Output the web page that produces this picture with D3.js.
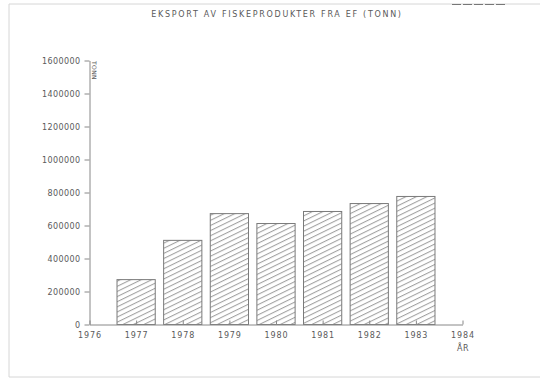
<!DOCTYPE html>
<html>
<head>
<meta charset="utf-8">
<script src="https://cdn.jsdelivr.net/npm/d3@7"></script>
<style>
  html, body { margin: 0; padding: 0; background: #fff; }
  svg { display: block; }
  text { font-family: "DejaVu Sans", sans-serif; fill: #5a5a5a; }
</style>
</head>
<body>
<script>
// Export of fish products from the EC, tonnes per year
const years = [1977, 1978, 1979, 1980, 1981, 1982, 1983];
const tonnes = [272000, 510000, 672000, 612000, 685000, 733000, 776000];
const yearTicks = [1976, 1977, 1978, 1979, 1980, 1981, 1982, 1983, 1984];
const tonneTicks = [0, 200000, 400000, 600000, 800000, 1000000, 1200000, 1400000, 1600000];

const W = 540, H = 381;
const svg = d3.select("body").append("svg").attr("width", W).attr("height", H);

// diagonal hatch used to fill the bars
const defs = svg.append("defs");
const pat = defs.append("pattern")
  .attr("id", "hatch")
  .attr("patternUnits", "userSpaceOnUse")
  .attr("width", 10).attr("height", 4.6)
  .attr("patternTransform", "rotate(-26)");
pat.append("line")
  .attr("x1", 0).attr("x2", 10).attr("y1", 0.6).attr("y2", 0.6)
  .attr("stroke", "#8a8a8a").attr("stroke-width", 0.9);

// faint sheet edge
svg.append("path")
  .attr("d", "M9,4 L540,4 M9,4 L9,377 M9,377 L540,377")
  .attr("fill", "none").attr("stroke", "#d6d6d6").attr("stroke-width", 1);
svg.append("line")
  .attr("x1", 452).attr("x2", 506).attr("y1", 4.5).attr("y2", 4.5)
  .attr("stroke", "#777").attr("stroke-width", 1.2)
  .attr("stroke-dasharray", "9,2");

const x = d3.scaleLinear().domain([1976, 1984]).range([89, 462]);
const y = d3.scaleLinear().domain([0, 1600000]).range([324, 60]);
const barW = 0.82; // in years

// bars
svg.append("g").selectAll("rect")
  .data(years.map((yr, i) => ({ yr, v: tonnes[i] })))
  .join("rect")
  .attr("x", d => x(d.yr - barW / 2) + 0.5)
  .attr("width", d => x(d.yr + barW / 2) - x(d.yr - barW / 2))
  .attr("y", d => y(d.v) + 0.5)
  .attr("height", d => y(0) - y(d.v))
  .attr("fill", "url(#hatch)")
  .attr("stroke", "#7a7a7a")
  .attr("stroke-width", 1);

// y axis
const yAxis = svg.append("g")
  .attr("transform", `translate(${x(1976) + 0.5},0.5)`)
  .call(d3.axisLeft(y).tickValues(tonneTicks).tickFormat(d3.format("d"))
    .tickSizeInner(5).tickSizeOuter(0).tickPadding(4));
yAxis.select(".domain").attr("stroke", "#888");
yAxis.selectAll(".tick line").attr("stroke", "#888");
yAxis.selectAll(".tick text")
  .style("font-size", "8px").style("letter-spacing", "0.4px")
  .attr("fill", "#5a5a5a");

// x axis (ticks point up into the plot)
const xAxis = svg.append("g")
  .attr("transform", `translate(0.5,${y(0) + 0.5})`)
  .call(d3.axisBottom(x).tickValues(yearTicks).tickFormat(d3.format("d"))
    .tickSizeInner(-4).tickSizeOuter(0).tickPadding(8));
xAxis.select(".domain").attr("stroke", "#888");
xAxis.selectAll(".tick line").attr("stroke", "#888");
xAxis.selectAll(".tick text")
  .style("font-size", "8px").style("letter-spacing", "0.9px")
  .attr("fill", "#5a5a5a");

// axis titles
svg.append("text")
  .attr("x", x(1984) - 5).attr("y", 351)
  .style("font-size", "8px").style("letter-spacing", "0.6px")
  .text("ÅR");
svg.append("text")
  .attr("transform", `translate(${x(1976) + 3},61) rotate(90)`)
  .style("font-size", "6px").style("letter-spacing", "0.4px")
  .attr("fill", "#8a8a8a")
  .text("TONN");

// title
svg.append("text")
  .attr("x", 277).attr("y", 17)
  .attr("text-anchor", "middle")
  .style("font-size", "8px").style("letter-spacing", "1.7px")
  .text("EKSPORT AV FISKEPRODUKTER FRA EF (TONN)");
</script>
</body>
</html>
